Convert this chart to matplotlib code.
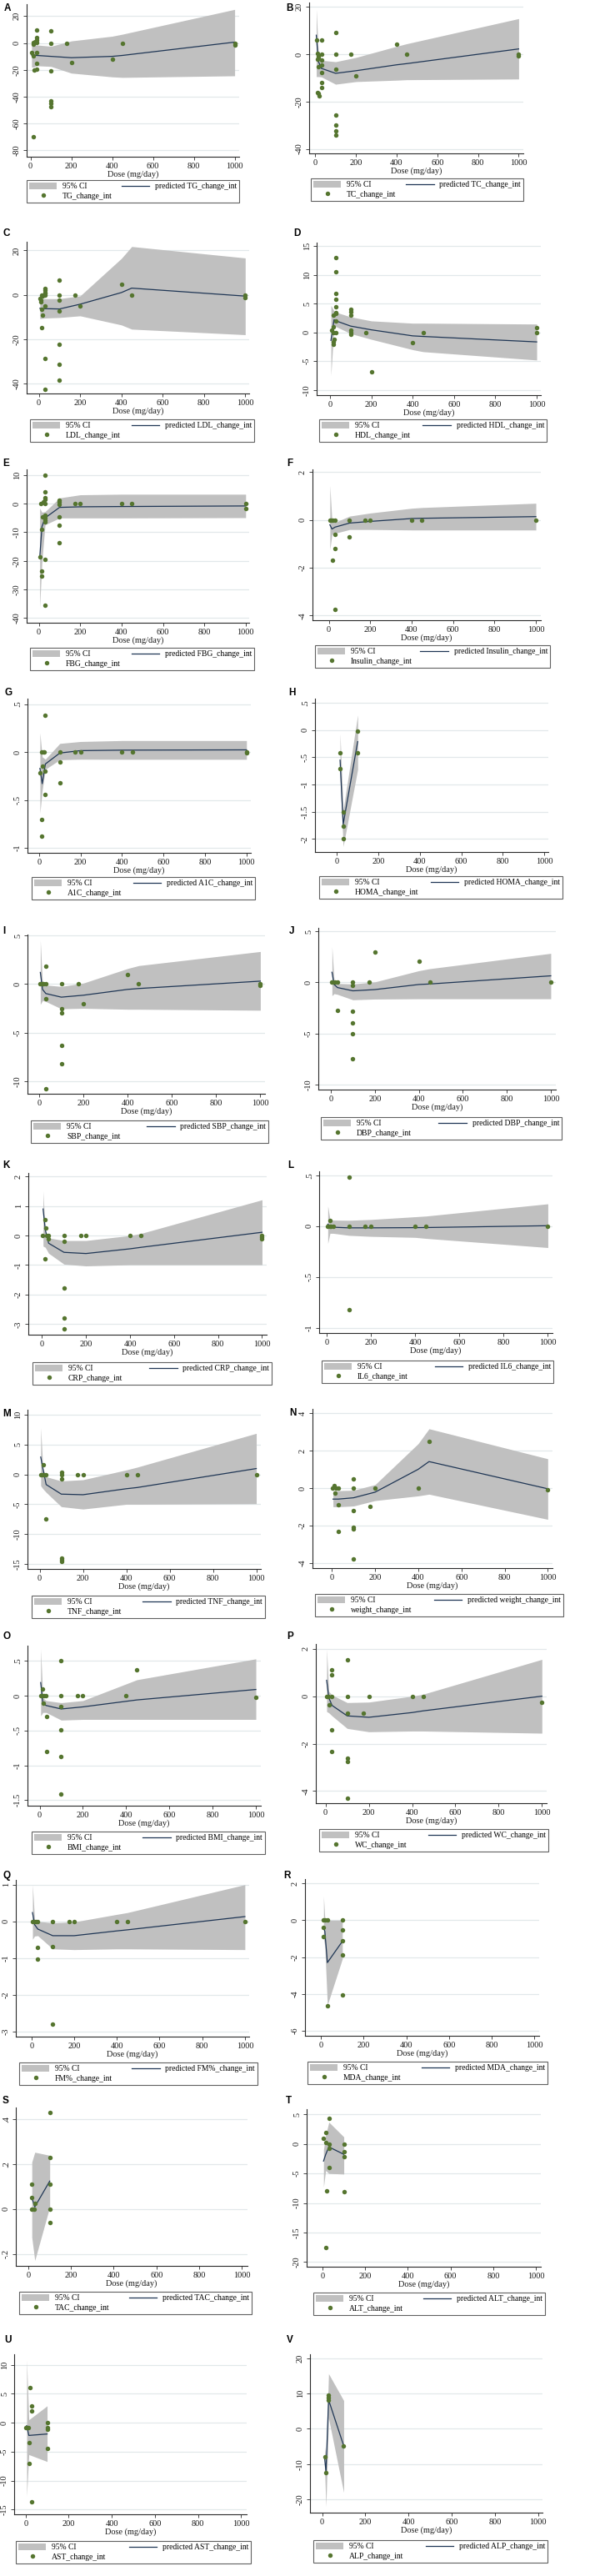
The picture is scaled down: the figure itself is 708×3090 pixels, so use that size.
import matplotlib
matplotlib.use("Agg")
import matplotlib.pyplot as plt
from matplotlib.lines import Line2D
from matplotlib.patches import Patch
from matplotlib.ticker import FuncFormatter

plt.rcParams['font.family'] = ['Liberation Serif', 'DejaVu Serif']

CI_GRAY = '#c0c0c0'
LINE_NAVY = '#1f3655'
DOT_GREEN = '#55752f'
GRID_COL = '#e2e8ea'

# ---- data: observed points (dose, change) and fitted curve with 95% CI ----
tg_dose = [5, 12, 14, 15, 16, 15, 20, 30, 30, 30, 30, 30, 30, 30, 100, 100, 100, 100, 100, 100, 175, 200, 400, 450, 1000, 1000]
tg_obs = [-7.3, 0.5, -1.2, -9.8, -20.3, -70, 1, 9.8, 4, 2, 0.6, -7, -15.5, -19.7, 9.3, 0, -20.5, -43, -45, -47.5, 0, -14.5, -11.8, 0, 0, -1.5]
tg_grid = [5, 15, 30, 100, 200, 400, 450, 1000]
tg_pred = [-9, -9, -9.3, -10, -11, -10, -9.3, 0.6]
tg_lo = [-18, -18, -17, -17.5, -22.5, -25.3, -25.7, -24.5]
tg_hi = [-2, -1.8, -1.5, -2.5, 1.5, 5, 6.5, 25]

tc_dose = [5, 12, 14, 16, 11, 14, 11, 15, 19, 30, 30, 30, 30, 30, 30, 30, 100, 100, 100, 100, 100, 100, 100, 175, 200, 400, 450, 1000, 1000]
tc_obs = [5.8, 0.3, -0.8, -1.6, -2.2, -5.3, -16.3, -16.6, -17.5, 6, 0, -2.5, -4.6, -7.8, -12, -14, 9.2, 0, -6.4, -25.7, -29.8, -32.3, -34.2, 0, -9.1, 4.2, 0, 0, -0.8]
tc_grid = [5, 15, 30, 100, 200, 400, 450, 1000]
tc_pred = [8, -3, -6, -8.1, -7, -4.5, -4, 2.2]
tc_lo = [-9.5, -9.5, -9.6, -12.7, -11.6, -11, -10.8, -10.5]
tc_hi = [19, 1, -2.6, -3.2, -1.4, 3.3, 4.4, 15]

ldl_dose = [6, 8, 10, 15, 18, 15, 18, 15, 30, 30, 30, 30, 30, 30, 30, 30, 100, 100, 100, 100, 100, 100, 100, 175, 200, 400, 450, 1000, 1000]
ldl_obs = [-1.5, -2.4, -3.2, 0, -0.5, -6.5, -9, -14.9, 0, 1, 2, 3, 0.5, -4.9, -28.8, -42.5, 6.8, 0, -2.5, -7.2, -22.4, -31.2, -38.4, 0, -5.2, 4.9, 0, 0, -1.4]
ldl_grid = [5, 30, 100, 200, 400, 450, 1000]
ldl_pred = [-6.1, -6.25, -6.4, -4.25, 1, 3, -0.6]
ldl_lo = [-10.75, -10.5, -10.25, -9.5, -13.6, -15.5, -18]
ldl_hi = [-1.75, -1.75, -1.75, -0.5, 16.4, 21.75, 16.6]

hdl_dose = [7, 17, 17, 20, 17, 17, 17, 30, 30, 30, 30, 30, 30, 30, 30, 30, 100, 100, 100, 100, 100, 100, 175, 200, 400, 450, 1000, 1000]
hdl_obs = [0.4, 1, 3.05, -1.2, -1.6, -2, 0, 13, 10.6, 6.8, 5.7, 4.5, 3.4, 3.3, 2, 0, 4, 3.6, 3, 0.4, 0, -0.3, 0, -6.9, -1.8, 0, 0.8, 0]
hdl_grid = [5, 20, 30, 100, 200, 400, 450, 1000]
hdl_pred = [-1.4, 2.2, 2.0, 1.1, 0.45, -0.6, -0.7, -1.65]
hdl_lo = [-7.5, 1.3, 1.0, -0.2, -1.2, -3, -3.35, -4.8]
hdl_hi = [4.7, 3.7, 3.5, 2.7, 2, 1.6, 1.6, 1.45]

fbg_dose = [4, 8, 15, 15, 15, 18, 20, 30, 30, 30, 30, 30, 30, 30, 30, 30, 30, 30, 100, 100, 100, 100, 100, 100, 175, 200, 400, 450, 1000, 1000]
fbg_obs = [-18.7, 0, -8.9, -23.5, -25.2, -4.6, 0.7, 10, 4.2, 2, 1.4, 0, -4, -5, -5.7, -6.4, -19.4, -35.5, 1.2, 0.5, -0.2, -4.6, -7.4, -13.8, 0, 0, 0, 0, 0, -1.7]
fbg_grid = [4, 15, 30, 100, 200, 400, 1000]
fbg_pred = [-19, -8, -5, -1.3, -1.1, -1.0, -0.8]
fbg_lo = [-36.5, -20, -7.4, -5, -5, -5, -4.9]
fbg_hi = [-1.6, -3, -2.8, 2, 3.1, 3.3, 3.3]

ins_dose = [5, 10, 17, 31, 31, 31, 17, 31, 100, 100, 175, 200, 400, 450, 1000]
ins_obs = [0, 0, 0, 0, -0.6, -1.2, -1.7, -3.75, 0, -0.7, 0, 0, 0, 0, 0]
ins_grid = [5, 15, 30, 100, 200, 400, 450, 1000]
ins_pred = [-0.2, -0.38, -0.3, -0.13, -0.06, 0.06, 0.07, 0.14]
ins_lo = [-1.25, -0.6, -0.56, -0.4, -0.4, -0.42, -0.42, -0.42]
ins_hi = [1.45, -0.03, -0.1, 0.16, 0.29, 0.49, 0.52, 0.7]

a1c_dose = [4, 13, 20, 25, 17, 30, 30, 30, 13, 13, 100, 100, 100, 175, 200, 400, 450, 1000, 1000]
a1c_obs = [-0.22, 0, 0, 0, -0.15, -0.2, 0.38, -0.44, -0.7, -0.88, 0, -0.1, -0.32, 0, 0, 0, 0, 0, -0.01]
a1c_grid = [4, 15, 30, 100, 200, 400, 1000]
a1c_pred = [-0.17, -0.33, -0.125, -0.01, 0.015, 0.02, 0.023]
a1c_lo = [-0.64, -0.4, -0.18, -0.08, -0.075, -0.076, -0.076]
a1c_hi = [0.2, -0.05, -0.075, 0.09, 0.11, 0.12, 0.12]

homa_dose = [15, 15, 31, 31, 31, 100, 100]
homa_obs = [-0.41, -0.7, -1.51, -1.77, -2.0, -0.02, -0.41]
homa_grid = [15, 30, 100]
homa_pred = [-0.55, -1.73, -0.21]
homa_lo = [-0.85, -2.14, -0.72]
homa_hi = [-0.06, -1.47, 0.28]

sbp_dose = [3, 10, 15, 20, 29, 29, 29, 29, 100, 100, 100, 100, 100, 175, 200, 400, 450, 1000, 1000]
sbp_obs = [0, 0, 0, 0, 0, 1.8, -1.5, -10.8, 0, -2.5, -3, -6.3, -8.2, 0, -2, 1, 0, 0, -0.1]
sbp_grid = [5, 15, 30, 100, 200, 400, 450, 1000]
sbp_pred = [1.2, -0.55, -0.98, -1.35, -1.15, -0.55, -0.46, 0.3]
sbp_lo = [-2.1, -1.7, -1.8, -2.55, -2.5, -2.6, -2.6, -2.7]
sbp_hi = [4.5, 0, -0.1, -0.25, 0.1, 1.6, 1.9, 3.35]

dbp_dose = [3, 10, 20, 29, 29, 100, 100, 100, 100, 100, 100, 175, 200, 400, 450, 1000]
dbp_obs = [0, 0, 0, 0, -2.7, 0, -0.3, -2.8, -4, -5, -7.5, 0, 3, 2.1, 0, 0]
dbp_grid = [5, 15, 30, 100, 200, 400, 450, 1000]
dbp_pred = [1.0, -0.2, -0.5, -0.82, -0.7, -0.2, -0.15, 0.65]
dbp_lo = [-1.3, -1.1, -1.17, -1.7, -1.63, -1.6, -1.6, -1.6]
dbp_hi = [3.5, 0.1, -0.1, -0.15, 0.05, 1.15, 1.35, 2.85]

crp_dose = [3, 14, 18, 20, 29, 29, 14, 100, 100, 100, 100, 100, 175, 200, 400, 450, 1000, 1000, 1000]
crp_obs = [0, 0.55, 0.25, 0, 0, -0.1, -0.8, 0, -0.2, -1.78, -2.8, -3.17, 0, 0, 0, 0, 0, -0.05, -0.1]
crp_grid = [5, 15, 30, 100, 200, 400, 450, 1000]
crp_pred = [0.9, 0.2, -0.26, -0.57, -0.61, -0.45, -0.4, 0.11]
crp_lo = [-0.36, -0.4, -0.6, -0.97, -1.03, -0.99, -0.99, -0.99]
crp_hi = [1.5, 0.1, -0.08, -0.17, -0.17, 0, 0.07, 1.21]

il6_dose = [3, 14, 14, 20, 30, 100, 100, 100, 175, 200, 400, 450, 1000]
il6_obs = [0, 0.06, 0, 0, 0, 0.48, 0, -0.82, 0, 0, 0, 0, 0]
il6_grid = [5, 15, 30, 100, 200, 400, 450, 1000]
il6_pred = [0.02, 0.0, -0.01, -0.016, -0.016, -0.014, -0.013, 0.005]
il6_lo = [-0.17, -0.07, -0.07, -0.09, -0.1, -0.11, -0.12, -0.21]
il6_hi = [0.2, 0.065, 0.06, 0.058, 0.066, 0.093, 0.1, 0.22]

tnf_dose = [4, 12, 18, 22, 30, 30, 100, 100, 100, 100, 100, 100, 175, 200, 400, 450, 1000]
tnf_obs = [0, 0, 1.6, 0, 0, -7.4, 0.3, 0, -0.8, -14, -14.3, -14.6, 0, 0, 0, 0, 0]
tnf_grid = [5, 15, 30, 100, 200, 400, 450, 1000]
tnf_pred = [2.9, 1.0, -1.7, -3.3, -3.4, -2.4, -2.2, 0.97]
tnf_lo = [-1.9, -2.4, -3, -5.4, -5.8, -5, -5, -4.9]
tnf_hi = [7.8, 1.0, -0.4, -1.1, -0.9, 0.74, 1.2, 6.85]

wt_dose = [4, 12, 15, 20, 30, 30, 30, 100, 100, 100, 100, 100, 100, 175, 200, 400, 450, 1000]
wt_obs = [0, 0.12, -0.28, 0, 0, -0.9, -2.3, 0.5, 0, -1.22, -2.1, -2.2, -3.8, -1, 0, 0, 2.5, -0.07]
wt_grid = [5, 30, 100, 200, 400, 450, 1000]
wt_pred = [-0.59, -0.59, -0.52, -0.22, 1.0, 1.41, -0.04]
wt_lo = [-1.0, -1.0, -0.96, -0.67, -0.42, -0.33, -1.67]
wt_hi = [-0.15, -0.14, -0.12, 0.18, 2.37, 3.16, 1.56]

bmi_dose = [4, 14, 14, 20, 30, 18, 32, 32, 100, 100, 100, 100, 100, 100, 175, 200, 400, 450, 1000]
bmi_obs = [0, 0.1, 0, 0, 0, -0.11, -0.3, -0.8, 0.5, 0, -0.16, -0.49, -0.87, -1.41, 0, 0, 0, 0.37, -0.02]
bmi_grid = [5, 15, 30, 100, 200, 400, 450, 1000]
bmi_pred = [0.19, -0.11, -0.14, -0.19, -0.16, -0.08, -0.06, 0.09]
bmi_lo = [-0.29, -0.24, -0.24, -0.35, -0.34, -0.34, -0.34, -0.34]
bmi_hi = [0.67, -0.03, -0.07, -0.1, -0.07, 0.17, 0.23, 0.53]

wc_dose = [4, 12, 18, 30, 30, 30, 30, 30, 100, 100, 100, 100, 100, 100, 175, 200, 400, 450, 1000]
wc_obs = [0, 0, -0.36, 0, 1.1, 0.9, -1.43, -2.33, 1.55, 0, -0.7, -2.6, -2.75, -4.3, -0.7, 0, 0, 0, -0.25]
wc_grid = [5, 15, 30, 100, 200, 400, 450, 1000]
wc_pred = [0.67, -0.07, -0.39, -0.83, -0.89, -0.69, -0.62, 0]
wc_lo = [-0.65, -0.7, -0.83, -1.36, -1.5, -1.47, -1.47, -1.56]
wc_hi = [1.98, 0.2, 0.05, -0.27, -0.25, 0, 0.08, 1.55]

fm_dose = [4, 12, 20, 30, 30, 30, 100, 100, 100, 175, 200, 400, 450, 1000]
fm_obs = [0, 0, 0, 0, -0.71, -1.03, 0, -0.68, -2.8, 0, 0, 0, 0, 0]
fm_grid = [5, 15, 30, 100, 200, 400, 450, 1000]
fm_pred = [0.24, -0.09, -0.21, -0.39, -0.39, -0.26, -0.23, 0.13]
fm_lo = [-0.49, -0.4, -0.39, -0.75, -0.77, -0.75, -0.75, -0.77]
fm_hi = [1.0, 0.05, 0, -0.04, -0.015, 0.19, 0.24, 1.0]

mda_dose = [12, 20, 32, 12, 12, 29, 100, 100, 100, 100, 100]
mda_obs = [0, 0, 0, -0.4, -0.9, -4.62, 0, -0.55, -1.1, -1.9, -4.06]
mda_grid = [12, 18, 30, 100]
mda_pred = [-0.4, -0.6, -2.3, -1.15]
mda_lo = [-1.0, -1.4, -4.6, -2.1]
mda_hi = [1.3, 0.1, 0.0, 0.0]

tac_dose = [16, 16, 16, 27, 32, 100, 100, 100, 100, 100]
tac_obs = [0.11, 0.052, 0, 0, 0.024, 0.43, 0.23, 0.11, 0, -0.06]
tac_grid = [16, 30, 100]
tac_pred = [0.05, 0.01, 0.125]
tac_lo = [-0.126, -0.23, 0.01]
tac_hi = [0.21, 0.254, 0.24]

alt_dose = [5, 14, 14, 14, 20, 30, 30, 30, 30, 100, 100, 100, 100]
alt_obs = [1.0, 2.0, 0.24, -17.6, -7.9, 4.3, 0, -0.7, -4.0, 0, -1.3, -2.1, -8.1]
alt_grid = [5, 15, 30, 100]
alt_pred = [-2.9, -1.8, -0.5, -1.75]
alt_lo = [-7.3, -4.5, -5.0, -5.1]
alt_hi = [-1.0, 1.5, 3.7, 1.2]

ast_dose = [2, 8, 14, 15, 15, 19, 30, 30, 30, 100, 100, 100, 100]
ast_obs = [-0.87, -0.87, -0.82, -3.5, -7.0, 6.0, 2.9, 2.0, -13.6, 0, -0.8, -1.2, -4.4]
ast_grid = [5, 15, 100]
ast_pred = [-0.5, -2.2, -1.95]
ast_lo = [-12.7, -5.5, -6.7]
ast_hi = [10.8, 0.5, 2.9]

alp_dose = [12, 18, 28, 28, 28, 99]
alp_obs = [-7.9, -12.5, 9.5, 8.9, 8.1, -4.8]
alp_grid = [12, 18, 30, 100]
alp_pred = [-8.5, -12.2, 8.2, -4.8]
alp_lo = [-12, -22, 3, -18]
alp_hi = [-5, -8, 15.6, 8]

outcomes = ['TG', 'TC', 'LDL', 'HDL', 'FBG', 'Insulin', 'A1C', 'HOMA', 'SBP', 'DBP', 'CRP',
            'IL6', 'TNF', 'weight', 'BMI', 'WC', 'FM%', 'MDA', 'TAC', 'ALT', 'AST', 'ALP']
panel_letters = list('ABCDEFGHIJKLMNOPQRSTUV')
yticks = [
    [20, 0, -20, -40, -60, -80], [20, 0, -20, -40], [20, 0, -20, -40], [15, 10, 5, 0, -5, -10],
    [10, 0, -10, -20, -30, -40], [2, 0, -2, -4], [.5, 0, -.5, -1], [.5, 0, -.5, -1, -1.5, -2],
    [5, 0, -5, -10], [5, 0, -5, -10], [2, 1, 0, -1, -2, -3], [.5, 0, -.5, -1],
    [10, 5, 0, -5, -10, -15], [4, 2, 0, -2, -4], [.5, 0, -.5, -1, -1.5], [2, 0, -2, -4],
    [1, 0, -1, -2, -3], [2, 0, -2, -4, -6], [.4, .2, 0, -.2], [5, 0, -5, -10, -15, -20],
    [10, 5, 0, -5, -10, -15], [20, 10, 0, -10, -20],
]
xticks = [0, 200, 400, 600, 800, 1000]

series = [
    (tg_dose, tg_obs, tg_grid, tg_pred, tg_lo, tg_hi),
    (tc_dose, tc_obs, tc_grid, tc_pred, tc_lo, tc_hi),
    (ldl_dose, ldl_obs, ldl_grid, ldl_pred, ldl_lo, ldl_hi),
    (hdl_dose, hdl_obs, hdl_grid, hdl_pred, hdl_lo, hdl_hi),
    (fbg_dose, fbg_obs, fbg_grid, fbg_pred, fbg_lo, fbg_hi),
    (ins_dose, ins_obs, ins_grid, ins_pred, ins_lo, ins_hi),
    (a1c_dose, a1c_obs, a1c_grid, a1c_pred, a1c_lo, a1c_hi),
    (homa_dose, homa_obs, homa_grid, homa_pred, homa_lo, homa_hi),
    (sbp_dose, sbp_obs, sbp_grid, sbp_pred, sbp_lo, sbp_hi),
    (dbp_dose, dbp_obs, dbp_grid, dbp_pred, dbp_lo, dbp_hi),
    (crp_dose, crp_obs, crp_grid, crp_pred, crp_lo, crp_hi),
    (il6_dose, il6_obs, il6_grid, il6_pred, il6_lo, il6_hi),
    (tnf_dose, tnf_obs, tnf_grid, tnf_pred, tnf_lo, tnf_hi),
    (wt_dose, wt_obs, wt_grid, wt_pred, wt_lo, wt_hi),
    (bmi_dose, bmi_obs, bmi_grid, bmi_pred, bmi_lo, bmi_hi),
    (wc_dose, wc_obs, wc_grid, wc_pred, wc_lo, wc_hi),
    (fm_dose, fm_obs, fm_grid, fm_pred, fm_lo, fm_hi),
    (mda_dose, mda_obs, mda_grid, mda_pred, mda_lo, mda_hi),
    (tac_dose, tac_obs, tac_grid, tac_pred, tac_lo, tac_hi),
    (alt_dose, alt_obs, alt_grid, alt_pred, alt_lo, alt_hi),
    (ast_dose, ast_obs, ast_grid, ast_pred, ast_lo, ast_hi),
    (alp_dose, alp_obs, alp_grid, alp_pred, alp_lo, alp_hi),
]

# ---- layout in pixels: axes box (left, top, right, bottom), legend box, letter pos, axis ranges ----
axes_px = [
    (32, 5, 287, 188), (371, 3, 628, 184), (32, 290, 299, 472), (380, 291, 649, 474),
    (32, 563, 299, 747), (375, 563, 649, 744), (33, 838, 301, 1023), (378, 838, 658, 1022),
    (33, 1121, 318, 1312), (382, 1113, 667, 1307), (34, 1407, 320, 1601), (383, 1405, 663, 1599),
    (33, 1691, 313, 1882), (375, 1690, 663, 1881), (33, 1974, 313, 2166), (379, 1972, 656, 2163),
    (19, 2255, 299, 2443), (366, 2254, 647, 2442), (19, 2528, 297, 2718), (368, 2530, 649, 2719),
    (17, 2824, 296, 3016), (372, 2824, 651, 3014),
]
legend_px = [
    (32, 216, 287, 247), (373, 214, 628, 243), (36, 503, 305, 532), (383, 503, 656, 532),
    (36, 777, 305, 807), (378, 774, 660, 803), (38, 1052, 306, 1082), (383, 1051, 675, 1081),
    (37, 1344, 322, 1375), (385, 1340, 674, 1371), (39, 1634, 326, 1664), (386, 1632, 664, 1663),
    (38, 1914, 318, 1944), (378, 1912, 676, 1943), (38, 2197, 318, 2227), (383, 2194, 658, 2225),
    (23, 2474, 309, 2505), (369, 2473, 657, 2504), (23, 2749, 302, 2779), (376, 2750, 654, 2781),
    (19, 3048, 301, 3078), (376, 3047, 657, 3078),
]
letter_px = [
    (5, 10), (343, 10), (3, 280), (352, 280), (3, 556), (344, 556), (5, 831), (346, 831),
    (3, 1117), (347, 1117), (3, 1398), (345, 1398), (3, 1696), (347, 1695), (3, 1963), (344, 1963),
    (3, 2250), (340, 2250), (3, 2520), (343, 2520), (5, 2807), (344, 2807),
]
xlims = [(-19, 1022), (-30, 1023), (-59, 1019), (-64, 1020), (-59, 1017), (-79, 1024),
         (-56, 1021), (-106, 1020), (-53, 1021), (-57, 1023), (-62, 1021), (-34, 1021),
         (-56, 1021), (-90, 1022), (-56, 1023), (-45, 1022), (-73, 1020), (-75, 1023),
         (-59, 1027), (-74, 1023), (-53, 1026), (-56, 1020)]
ylims = [(-84.8, 28.9), (-41.9, 21.8), (-44.5, 23.9), (-10.9, 15.6), (-41.65, 12), (-4.2, 2.12),
         (-1.052, 0.558), (-2.24, 0.58), (-11.3, 5.1), (-10.5, 5.35), (-3.36, 2.12), (-1.05, 0.54),
         (-15.8, 10.8), (-4.27, 4.22), (-1.58, 0.72), (-4.51, 2.2), (-3.14, 1.13), (-6.27, 2.23),
         (-0.254, 0.454), (-20.8, 5.9), (-15.8, 11.8), (-23.7, 21.1)]

W, H = 708, 3090


def stata_num(v, pos=None):
    # stata drops the leading zero: -.5, .4
    s = f'{v:g}'
    if v != 0 and abs(v) < 1:
        s = s.replace('0.', '.', 1)
    return s


fig = plt.figure(figsize=(W / 100, H / 100), dpi=100)
fig.patch.set_facecolor('white')

for i, (dose, obs, grid, pred, lo, hi) in enumerate(series):
    l, t, r, b = axes_px[i]
    ax = fig.add_axes([l / W, 1 - b / H, (r - l) / W, (b - t) / H])
    ax.set_axisbelow(True)

    ax.fill_between(grid, lo, hi, color=CI_GRAY, lw=0, zorder=1)
    ax.plot(grid, pred, color=LINE_NAVY, lw=0.9, zorder=3)
    ax.plot(dose, obs, 'o', color=DOT_GREEN, ms=3.9, mew=0, zorder=4)

    ax.set_xlim(*xlims[i])
    ax.set_ylim(*ylims[i])
    ax.set_xticks(xticks)
    ax.set_yticks(yticks[i])
    ax.yaxis.set_major_formatter(FuncFormatter(stata_num))
    ax.grid(axis='y', color=GRID_COL, lw=0.9)
    ax.grid(axis='x', visible=False)

    for side in ('top', 'right'):
        ax.spines[side].set_visible(False)
    for side in ('left', 'bottom'):
        ax.spines[side].set_color('#2a2a2a')
        ax.spines[side].set_linewidth(0.8)
    ax.tick_params(axis='both', direction='out', length=3, width=0.6, color='#2a2a2a',
                   labelsize=7.4, pad=2, labelcolor='#1a1a1a')
    ax.tick_params(axis='y', labelrotation=90)
    for lab in ax.get_yticklabels():
        lab.set_va('center')
    ax.set_xlabel('Dose (mg/day)', fontsize=7.4, labelpad=0.5, color='#1a1a1a')

    name = outcomes[i]
    handles = [
        Patch(facecolor=CI_GRAY, edgecolor='none'),
        Line2D([], [], ls='none', marker='o', color=DOT_GREEN, ms=3.9, mew=0),
        Line2D([], [], color=LINE_NAVY, lw=0.9),
    ]
    labels = ['95% CI', f'{name}_change_int', f'predicted {name}_change_int']
    lx0, ly0, lx1, ly1 = legend_px[i]
    leg = fig.legend(handles, labels, ncol=2, mode='expand', loc='upper left',
                     bbox_to_anchor=(lx0 / W, 1 - ly0 / H, (lx1 - lx0) / W, 0),
                     bbox_transform=fig.transFigure, borderaxespad=0,
                     fontsize=6.9, frameon=True, fancybox=False, borderpad=0.3,
                     labelspacing=0.25, handlelength=3.5, handleheight=0.9,
                     handletextpad=0.7, columnspacing=1.0)
    leg.get_frame().set_edgecolor('#3a3a3a')
    leg.get_frame().set_linewidth(0.8)

    px, py = letter_px[i]
    fig.text(px / W, 1 - py / H, panel_letters[i], fontsize=8.5, fontweight='bold',
             family=['Liberation Sans', 'DejaVu Sans'], ha='left', va='center')

fig.savefig('out.png', dpi=100, facecolor='white')
